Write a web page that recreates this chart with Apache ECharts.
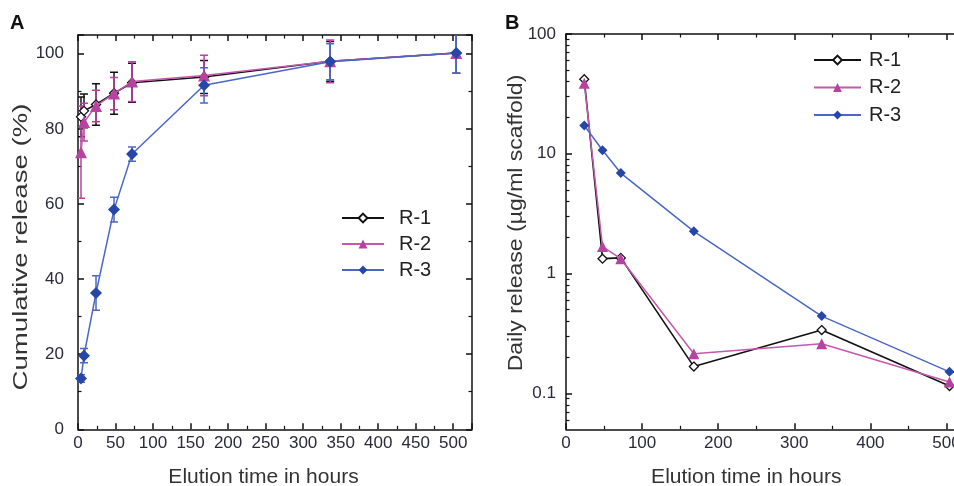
<!DOCTYPE html>
<html><head><meta charset="utf-8">
<script src="https://cdn.jsdelivr.net/npm/echarts@6/dist/echarts.min.js"></script>
<style>html,body{margin:0;padding:0;background:#fff}#c{width:954px;height:486px}</style>
</head><body><div id="c"></div>
<script>
// ---------- Panel A: cumulative release (%) ----------
const timeA = [4, 8, 24, 48, 72, 168, 336, 504];
const cumR1 = [83.2, 84.8, 86.5, 89.5, 92.3, 93.8, 98.0, 100.2];
const errR1 = [5.3, 4.5, 5.5, 5.6, 5.2, 4.4, 5.3, 5.4];
const cumR2 = [73.8, 81.8, 86.1, 89.4, 92.6, 94.2, 98.0, 100.2];
const errR2 = [12.3, 5.0, 4.2, 4.3, 5.3, 5.4, 5.7, 5.4];
const cumR3 = [13.5, 19.6, 36.3, 58.5, 73.3, 91.6, 97.9, 100.2];
const errR3 = [1.0, 1.9, 4.6, 3.3, 1.9, 4.7, 4.8, 5.4];
const xTicksA = [0, 50, 100, 150, 200, 250, 300, 350, 400, 450, 500];
const yTicksA = [0, 20, 40, 60, 80, 100];

// ---------- Panel B: daily release (ug/ml scaffold) ----------
const timeB = [24, 48, 72, 168, 336, 504];
const dailyR1 = [41.9, 1.33, 1.35, 0.167, 0.337, 0.115];
const dailyR2 = [38.8, 1.68, 1.33, 0.214, 0.259, 0.124];
const dailyR3 = [17.2, 10.7, 6.9, 2.25, 0.441, 0.151];
const xTicksB = [0, 100, 200, 300, 400, 500];
const yTicksB = [0.1, 1, 10, 100];
const yMinorTicksB = [0.06, 0.07, 0.08, 0.09, 0.2, 0.3, 0.4, 0.5, 0.6, 0.7, 0.8, 0.9,
  2, 3, 4, 5, 6, 7, 8, 9, 20, 30, 40, 50, 60, 70, 80, 90];

const seriesNames = ['R-1', 'R-2', 'R-3'];

const C1 = '#111111', C2L = '#c458ae', C2M = '#b8429f', C3L = '#4a67c4', C3M = '#2747a8';
const FONT = '"Liberation Sans", Arial, sans-serif';
const AX = '#111';
const LBL = '#2a2a3a';

function pairs(xs, ys) { return xs.map((x, i) => [x, ys[i]]); }
function errData(xs, ys, es) { return xs.map((x, i) => [x, ys[i] - es[i], ys[i] + es[i]]); }
function errBar(color) {
  return function (params, api) {
    const x = api.value(0), lo = api.value(1), hi = api.value(2);
    const p1 = api.coord([x, hi]), p2 = api.coord([x, lo]);
    const w = 4;
    const st = { stroke: color, lineWidth: 1.5 };
    return { type: 'group', children: [
      { type: 'line', shape: { x1: p1[0], y1: p1[1], x2: p2[0], y2: p2[1] }, style: st },
      { type: 'line', shape: { x1: p1[0] - w, y1: p1[1], x2: p1[0] + w, y2: p1[1] }, style: st },
      { type: 'line', shape: { x1: p2[0] - w, y1: p2[1], x2: p2[0] + w, y2: p2[1] }, style: st }
    ]};
  };
}

function baseAxis(extra) {
  return Object.assign({
    type: 'value',
    axisLine: { show: true, onZero: false, lineStyle: { color: AX, width: 1.5 } },
    axisTick: { show: true, inside: true, length: 6, lineStyle: { color: AX, width: 1.5 } },
    minorTick: { show: true, splitNumber: 2, length: 3.5, lineStyle: { color: AX, width: 1.2 } },
    splitLine: { show: false },
    axisLabel: { show: false }
  }, extra);
}
const lblStyle = { fontSize: 17, color: LBL, fontFamily: FONT };

const option = {
  animation: false,
  backgroundColor: '#fff',
  grid: [
    { left: 78, top: 35, width: 394, height: 394.3, outerBoundsMode: 'none', containLabel: false },
    { left: 566, top: 34, width: 399.5, height: 395.3, outerBoundsMode: 'none', containLabel: false }
  ],
  xAxis: [
    baseAxis({ gridIndex: 0, position: 'bottom', min: 0, max: 525, interval: 50,
      axisLabel: Object.assign({ show: true, margin: 6, customValues: xTicksA }, lblStyle),
      name: 'Elution time in hours', nameLocation: 'middle', nameGap: 37,
      nameTextStyle: { fontSize: 21, color: '#333', fontFamily: FONT, padding: [0, 23, 0, 0] } }),
    baseAxis({ gridIndex: 0, position: 'top', min: 0, max: 525, interval: 50 }),
    baseAxis({ gridIndex: 1, position: 'bottom', min: 0, max: 525, interval: 100,
      axisLabel: Object.assign({ show: true, margin: 6, customValues: xTicksB }, lblStyle),
      name: 'Elution time in hours', nameLocation: 'middle', nameGap: 37,
      nameTextStyle: { fontSize: 21, color: '#333', fontFamily: FONT, padding: [0, 39, 0, 0] } }),
    baseAxis({ gridIndex: 1, position: 'top', min: 0, max: 525, interval: 100 })
  ],
  yAxis: [
    baseAxis({ gridIndex: 0, position: 'left', min: 0, max: 105, interval: 20,
      axisLabel: Object.assign({ show: true, margin: 14, customValues: yTicksA }, lblStyle) }),
    baseAxis({ gridIndex: 0, position: 'right', min: 0, max: 105, interval: 20 }),
    baseAxis({ gridIndex: 1, position: 'left', type: 'log', logBase: 10, min: 0.05, max: 100,
      minorTick: { show: false },
      axisTick: { show: true, inside: true, length: 6, customValues: yTicksB, lineStyle: { color: AX, width: 1.5 } },
      axisLabel: Object.assign({ show: true, margin: 10, customValues: yTicksB,
        formatter: v => (v < 1 ? Number(v).toFixed(1) : String(Math.round(v))) }, lblStyle) }),
    baseAxis({ gridIndex: 1, position: 'left', type: 'log', logBase: 10, min: 0.05, max: 100,
      axisLine: { show: false }, minorTick: { show: false },
      axisTick: { show: true, inside: true, length: 3.5, customValues: yMinorTicksB, lineStyle: { color: AX, width: 1.2 } } })
  ],
  legend: [
    { data: seriesNames, orient: 'vertical', left: 341, top: 208, padding: 0, itemGap: 6,
      itemWidth: 42, itemHeight: 11, textStyle: { fontSize: 20, color: '#222', fontFamily: FONT, padding: [0, 0, 0, 10] } },
    { data: seriesNames, orient: 'vertical', left: 813, top: 50, padding: 0, itemGap: 7.5,
      itemWidth: 47, itemHeight: 11, textStyle: { fontSize: 20, color: '#222', fontFamily: FONT, padding: [0, 0, 0, 3] } }
  ],
  graphic: [
    { type: 'text', left: 10, top: 13, style: { text: 'A', font: 'bold 20px ' + FONT, fill: '#111' } },
    { type: 'text', left: 505, top: 13, style: { text: 'B', font: 'bold 20px ' + FONT, fill: '#111' } },
    { type: 'text', x: 21, y: 247, rotation: Math.PI / 2, scaleX: 1.38,
      style: { text: 'Cumulative release (%)', font: '20px ' + FONT, fill: '#333',
        align: 'center', verticalAlign: 'middle', textAlign: 'center', textVerticalAlign: 'middle' } },
    { type: 'text', x: 516, y: 223, rotation: Math.PI / 2, scaleX: 1.15,
      style: { text: 'Daily release (\u00b5g/ml scaffold)', font: '20px ' + FONT, fill: '#333',
        align: 'center', verticalAlign: 'middle', textAlign: 'center', textVerticalAlign: 'middle' } }
  ],
  series: [
    // Panel A error bars
    { type: 'custom', name: 'R-1 err', xAxisIndex: 0, yAxisIndex: 0, data: errData(timeA, cumR1, errR1),
      renderItem: errBar(C1), clip: true, silent: true, z: 2, encode: { x: 0, y: [1, 2] } },
    { type: 'custom', name: 'R-2 err', xAxisIndex: 0, yAxisIndex: 0, data: errData(timeA, cumR2, errR2),
      renderItem: errBar(C2M), clip: true, silent: true, z: 2, encode: { x: 0, y: [1, 2] } },
    { type: 'custom', name: 'R-3 err', xAxisIndex: 0, yAxisIndex: 0, data: errData(timeA, cumR3, errR3),
      renderItem: errBar(C3L), clip: true, silent: true, z: 2, encode: { x: 0, y: [1, 2] } },
    // Panel A lines
    { type: 'line', name: 'R-1', xAxisIndex: 0, yAxisIndex: 0, data: pairs(timeA, cumR1),
      symbol: 'diamond', symbolSize: 9, lineStyle: { color: C1, width: 1.6 },
      itemStyle: { color: '#fff', borderColor: C1, borderWidth: 1.3 }, z: 3 },
    { type: 'line', name: 'R-2', xAxisIndex: 0, yAxisIndex: 0, data: pairs(timeA, cumR2),
      symbol: 'triangle', symbolSize: 12, lineStyle: { color: C2L, width: 1.5 },
      itemStyle: { color: C2M }, z: 4 },
    { type: 'line', name: 'R-3', xAxisIndex: 0, yAxisIndex: 0, data: pairs(timeA, cumR3),
      symbol: 'diamond', symbolSize: 12, lineStyle: { color: C3L, width: 1.5 },
      itemStyle: { color: C3M }, z: 5 },
    // Panel B lines
    { type: 'line', name: 'R-1', xAxisIndex: 2, yAxisIndex: 2, data: pairs(timeB, dailyR1),
      symbol: 'diamond', symbolSize: 9, lineStyle: { color: C1, width: 1.6 },
      itemStyle: { color: '#fff', borderColor: C1, borderWidth: 1.3 }, z: 3 },
    { type: 'line', name: 'R-2', xAxisIndex: 2, yAxisIndex: 2, data: pairs(timeB, dailyR2),
      symbol: 'triangle', symbolSize: 11, lineStyle: { color: C2L, width: 1.5 },
      itemStyle: { color: C2M }, z: 4 },
    { type: 'line', name: 'R-3', xAxisIndex: 2, yAxisIndex: 2, data: pairs(timeB, dailyR3),
      symbol: 'diamond', symbolSize: 10, lineStyle: { color: C3L, width: 1.5 },
      itemStyle: { color: C3M }, z: 5 }
  ]
};
const chart = echarts.init(document.getElementById('c'), null, { renderer: 'canvas' });
chart.setOption(option);
</script>
</body></html>
